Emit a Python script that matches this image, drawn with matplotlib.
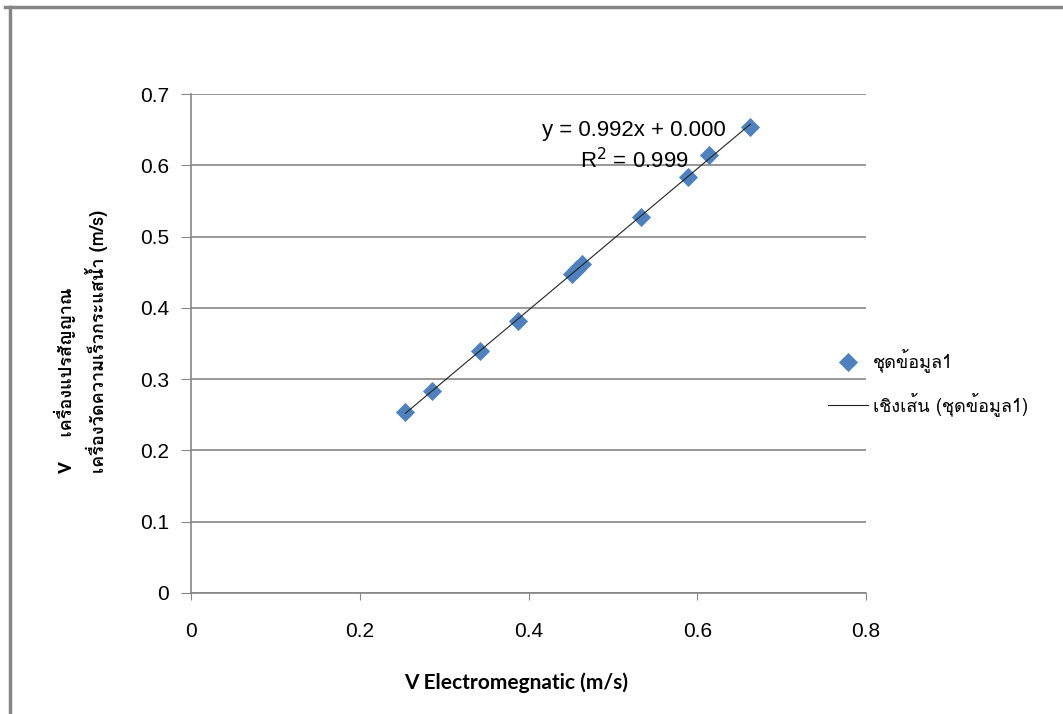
import matplotlib
matplotlib.use("Agg")
import matplotlib.pyplot as plt
import numpy as np
from matplotlib import font_manager
from matplotlib.ft2font import FT2Font
from matplotlib.lines import Line2D

# Data
v_electro = [0.254, 0.286, 0.343, 0.388, 0.451, 0.457, 0.463, 0.533, 0.589, 0.614, 0.663]
v_meter = [0.254, 0.284, 0.339, 0.381, 0.448, 0.455, 0.462, 0.527, 0.584, 0.615, 0.654]
slope = 0.992
intercept = 0.000
r_squared = 0.999

x_ticks = [0, 0.2, 0.4, 0.6, 0.8]
x_ticklabels = ["0", "0.2", "0.4", "0.6", "0.8"]
y_ticks = [0, 0.1, 0.2, 0.3, 0.4, 0.5, 0.6, 0.7]
y_ticklabels = ["0", "0.1", "0.2", "0.3", "0.4", "0.5", "0.6", "0.7"]

x_label = "V Electromegnatic (m/s)"
y_label = "V    เครื่องแปรสัญญาณ\nเครื่องวัดความเร็วกระแสน้ำ (m/s)"
series_name = "ชุดข้อมูล1"
trend_name = "เชิงเส้น (ชุดข้อมูล1)"


# find a font that can draw Thai
def thai_font():
    for f in font_manager.fontManager.ttflist:
        try:
            if FT2Font(f.fname).get_char_index(ord("ก")):
                return f.name
        except Exception:
            pass
    return "DejaVu Sans"


thai = thai_font()
latin = "Lato"
plt.rcParams["font.family"] = [latin, thai, "DejaVu Sans"]

blue = "#4F81BD"
grey = "#868686"

fig = plt.figure(figsize=(10.63, 7.14), dpi=100)
ax = fig.add_axes([191 / 1063, 1 - 593 / 714, 675 / 1063, 499 / 714])

ax.scatter(v_electro, v_meter, marker="D", s=95, color=blue, zorder=3,
           label=series_name, linewidths=0)
xs = np.array([min(v_electro), max(v_electro)])
ax.plot(xs, slope * xs + intercept, color="#222222", lw=0.8, zorder=4, label=trend_name)

ax.set_xlim(0, 0.8)
ax.set_ylim(0, 0.7)
ax.set_xticks(x_ticks)
ax.set_xticklabels(x_ticklabels, family="Liberation Sans")
ax.set_yticks(y_ticks)
ax.set_yticklabels(y_ticklabels, family="Liberation Sans")
ax.yaxis.grid(True, color=grey, lw=1.2)
ax.set_axisbelow(True)
for s in ["top", "right"]:
    ax.spines[s].set_visible(False)
for s in ["left", "bottom"]:
    ax.spines[s].set_color(grey)
    ax.spines[s].set_linewidth(1.2)
ax.tick_params(axis="both", direction="out", color=grey, labelsize=15)
ax.tick_params(axis="y", length=7, pad=9)
ax.tick_params(axis="x", length=5, pad=16)

ax.set_xlabel(x_label, fontsize=15, fontweight="bold")
ax.xaxis.set_label_coords((516 - 191) / 675, -(672 - 593) / 499)
ax.set_ylabel(y_label, fontsize=13, fontweight="bold",
              family=[thai, latin, "DejaVu Sans"], linespacing=1.5,
              multialignment="left")
ax.yaxis.set_label_coords(-(191 - 108) / 675, (593 - 341) / 499)

ax.text(0.525, 0.649, f"y = {slope:.3f}x + {intercept:.3f}", fontsize=16,
        family="Liberation Sans", ha="center", va="center")
ax.text(0.525, 0.607, f"R$^2$ = {r_squared:.3f}", fontsize=16,
        family="Liberation Sans", ha="center", va="center")

fig.legend(loc="center left", bbox_to_anchor=(828 / 1063, 1 - 382 / 714),
           frameon=False, handlelength=2.2, handletextpad=0.3,
           labelspacing=1.1, borderpad=0, borderaxespad=0,
           prop={"family": [thai, "DejaVu Sans"], "size": 13})

# outer chart border
fig.add_artist(Line2D([5 / 1063, 1], [1 - 7 / 714, 1 - 7 / 714], color=grey, lw=2.5))
fig.add_artist(Line2D([10 / 1063, 10 / 1063], [0, 1 - 7 / 714], color=grey, lw=2.5))

fig.savefig("out.png", dpi=100)
